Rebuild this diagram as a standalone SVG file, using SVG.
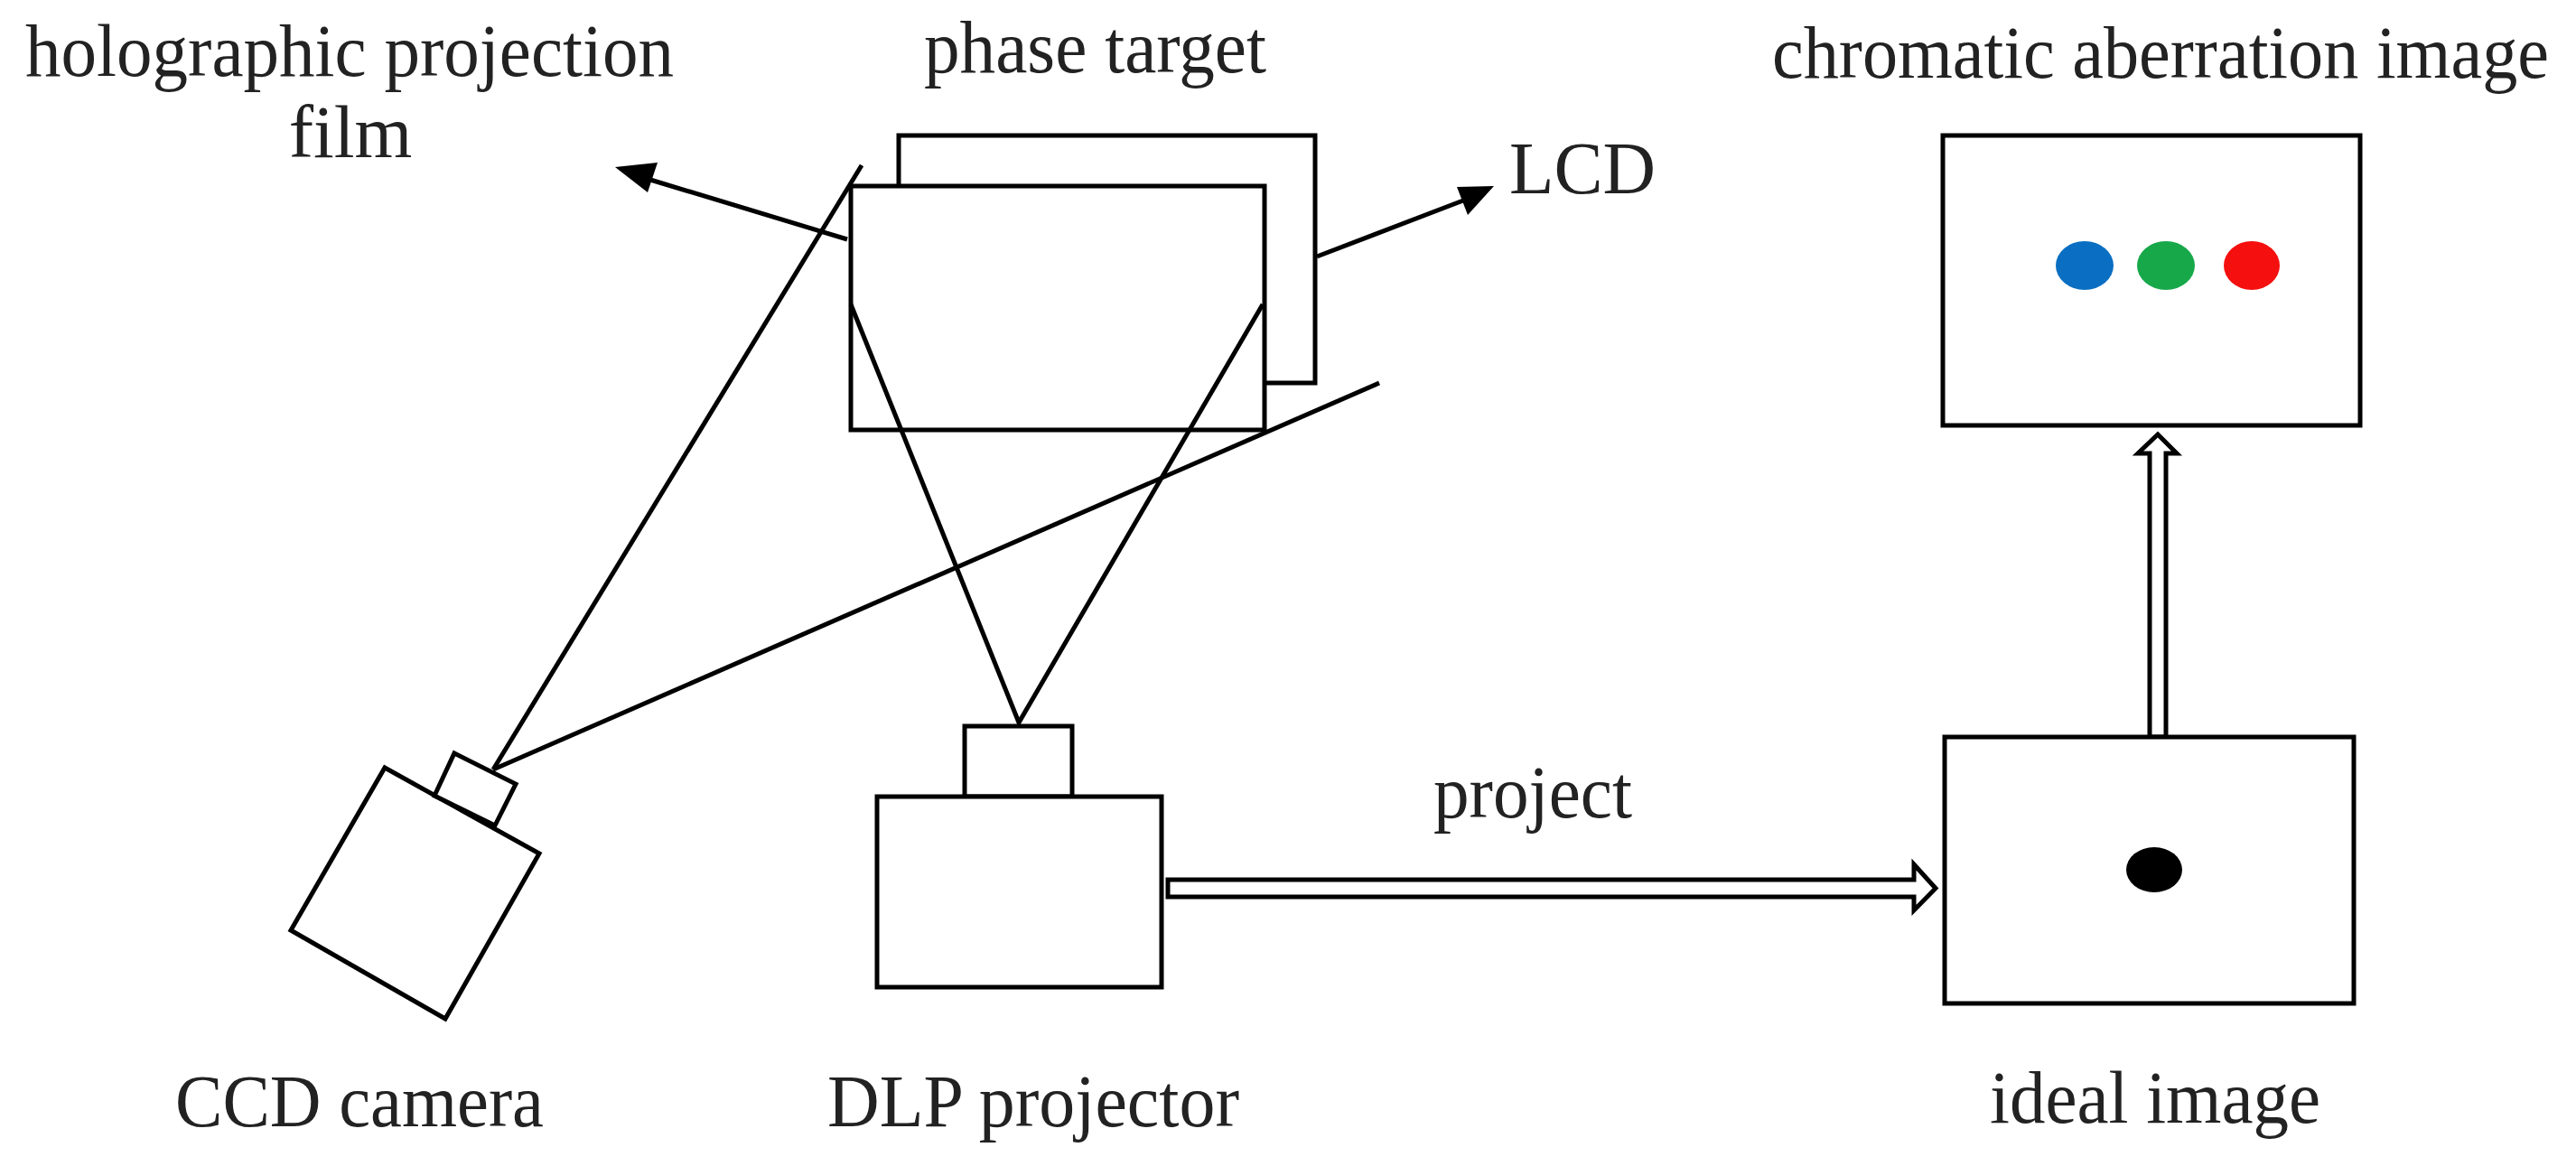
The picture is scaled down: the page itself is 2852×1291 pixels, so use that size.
<svg xmlns="http://www.w3.org/2000/svg" width="2852" height="1291" viewBox="0 0 2852 1291">
<style>
.s{fill:none;stroke:#000;stroke-width:5}
.w{fill:#fff;stroke:#000;stroke-width:5}
text{font-family:"Liberation Serif","Times New Roman",serif;font-size:82px;fill:#222}
</style>
<rect width="2852" height="1291" fill="#fff"/>
<g id="lcd"><rect class="w" x="995" y="150" width="461" height="274"/></g>
<g id="film"><rect class="w" x="942" y="206" width="458" height="270"/></g>
<g id="connectors">
<line class="s" x1="546" y1="852" x2="954" y2="183"/>
<line class="s" x1="546" y1="852" x2="1527" y2="424"/>
<polyline class="s" points="942,337 1128,800 1398,337"/>
<line class="s" x1="938" y1="265" x2="720" y2="199"/>
<polygon points="681,185 728,180 717,213" fill="#000"/>
<line class="s" x1="1458" y1="284" x2="1620" y2="222"/>
<polygon points="1654,206 1625,238 1613,207" fill="#000"/>
<path class="w" d="M1293,974 L2119,974 L2119,957 L2143,983.5 L2119,1008 L2119,993 L1293,993 Z" stroke-width="4"/>
<path class="w" d="M2380,816 L2380,502 L2367,502 L2389,481 L2410,502 L2398,502 L2398,816 Z" stroke-width="4"/>
</g>
<g id="ccd"><polygon class="w" points="426,850 597,945 493,1128 322,1030"/><polygon class="w" points="503,834 571,868 548,914 481,881"/></g>
<g id="dlp"><rect class="w" x="1068" y="804" width="119" height="78"/><rect class="w" x="971" y="882" width="315" height="211"/></g>
<g id="chroma"><rect class="w" x="2151" y="150" width="462" height="321"/>
<ellipse cx="2308" cy="294" rx="32" ry="27" fill="#0a6fc2"/><ellipse cx="2398" cy="294" rx="32" ry="27" fill="#17a84a"/><ellipse cx="2493" cy="294" rx="31" ry="27" fill="#f50f0f"/></g>
<g id="ideal"><rect class="w" x="2153" y="816" width="453" height="295"/><ellipse cx="2385" cy="963" rx="31" ry="25" fill="#000"/></g>
<g id="labels">
<text x="28" y="84" textLength="718" lengthAdjust="spacingAndGlyphs">holographic projection</text>
<text x="388" y="174" text-anchor="middle">film</text>
<text x="1023" y="80" textLength="379" lengthAdjust="spacingAndGlyphs">phase target</text>
<text x="1671" y="214" textLength="162" lengthAdjust="spacingAndGlyphs">LCD</text>
<text x="1962" y="86" font-size="78" textLength="860" lengthAdjust="spacingAndGlyphs">chromatic aberration image</text>
<text x="1587" y="905" textLength="220" lengthAdjust="spacingAndGlyphs">project</text>
<text x="194" y="1247" textLength="408" lengthAdjust="spacingAndGlyphs">CCD camera</text>
<text x="916" y="1247" textLength="456" lengthAdjust="spacingAndGlyphs">DLP projector</text>
<text x="2203" y="1243" textLength="366" lengthAdjust="spacingAndGlyphs">ideal image</text>
</g>
</svg>
